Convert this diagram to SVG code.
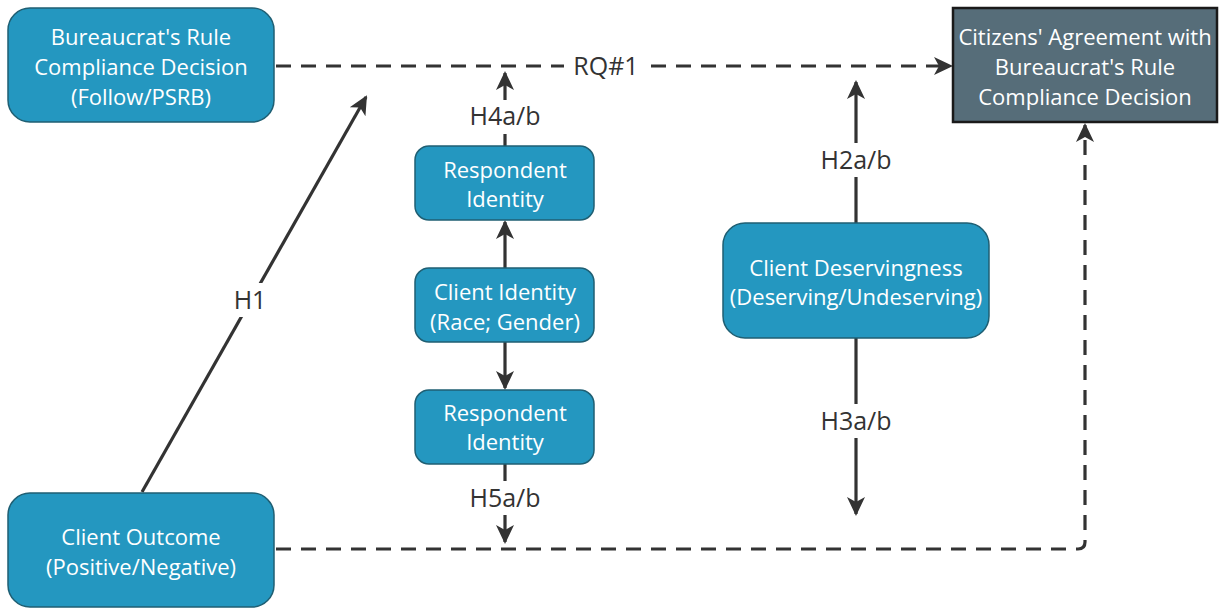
<svg xmlns="http://www.w3.org/2000/svg" width="1223" height="609" viewBox="0 0 1223 609">
<defs>
<marker id="ah" viewBox="0 0 20 20" refX="17" refY="10" markerWidth="20" markerHeight="20" markerUnits="userSpaceOnUse" orient="auto">
<path d="M0,1 L19,10 L0,19 L5,10 Z" fill="#333"/>
</marker>
<style>
.node{fill:#2497c0;stroke:#1f5f73;stroke-width:1.5}
.dark{fill:#566d79;stroke:#1a1a1a;stroke-width:2.5}
.nt{font-family:"Open Sans","Noto Sans",sans-serif;font-size:22px;fill:#ffffff;text-anchor:middle}
.lbl{font-family:"Open Sans","Noto Sans",sans-serif;font-size:25px;fill:#333;text-anchor:middle}
.ln{stroke:#333;stroke-width:3.2;fill:none;marker-end:url(#ah)}
.dash{stroke-dasharray:15 10}
.bg{fill:#fff}
</style>
</defs>
<rect width="1223" height="609" fill="#fff"/>
<g id="connectors">
<path class="ln dash" d="M276,66 L951,66"/>
<path class="ln" d="M142,492 L366,97"/>
<path class="ln" d="M505,146 L505,73"/>
<path class="ln" d="M505,268 L505,222"/>
<path class="ln" d="M505,342 L505,388"/>
<path class="ln" d="M505,464 L505,542"/>
<path class="ln" d="M856,223 L856,82"/>
<path class="ln" d="M856,338 L856,514"/>
<path class="ln dash" d="M276,549 L1078,549 Q1085,549 1085,542 L1085,125"/>
<rect class="bg" x="564" y="50" width="84" height="32"/>
<text class="lbl" x="606" y="75">RQ#1</text>
<rect class="bg" x="228" y="283" width="44" height="34"/>
<text class="lbl" x="250" y="309">H1</text>
<rect class="bg" x="463" y="100" width="84" height="34"/>
<text class="lbl" x="505" y="125">H4a/b</text>
<rect class="bg" x="463" y="481" width="84" height="34"/>
<text class="lbl" x="505" y="507">H5a/b</text>
<rect class="bg" x="814" y="143" width="84" height="34"/>
<text class="lbl" x="856" y="169">H2a/b</text>
<rect class="bg" x="814" y="404" width="84" height="34"/>
<text class="lbl" x="856" y="430">H3a/b</text>
</g>
<g id="n1">
<rect class="node" x="8" y="8" width="266" height="114" rx="22"/>
<text class="nt" x="141" y="45">Bureaucrat's Rule</text>
<text class="nt" x="141" y="75">Compliance Decision</text>
<text class="nt" x="141" y="105">(Follow/PSRB)</text>
</g>
<g id="n2">
<rect class="dark" x="953" y="8" width="264" height="114"/>
<text class="nt" x="1085" y="45">Citizens' Agreement with</text>
<text class="nt" x="1085" y="75">Bureaucrat's Rule</text>
<text class="nt" x="1085" y="105">Compliance Decision</text>
</g>
<g id="n3">
<rect class="node" x="415" y="146" width="179" height="74" rx="14"/>
<text class="nt" x="505" y="178">Respondent</text>
<text class="nt" x="505" y="207">Identity</text>
</g>
<g id="n4">
<rect class="node" x="415" y="268" width="179" height="74" rx="14"/>
<text class="nt" x="505" y="300">Client Identity</text>
<text class="nt" x="505" y="330">(Race; Gender)</text>
</g>
<g id="n5">
<rect class="node" x="415" y="390" width="179" height="74" rx="14"/>
<text class="nt" x="505" y="421">Respondent</text>
<text class="nt" x="505" y="450">Identity</text>
</g>
<g id="n6">
<rect class="node" x="723" y="223" width="266" height="115" rx="22"/>
<text class="nt" x="856" y="276">Client Deservingness</text>
<text class="nt" x="856" y="305">(Deserving/Undeserving)</text>
</g>
<g id="n7">
<rect class="node" x="8" y="493" width="266" height="114" rx="22"/>
<text class="nt" x="141" y="545">Client Outcome</text>
<text class="nt" x="141" y="575">(Positive/Negative)</text>
</g>
</svg>
